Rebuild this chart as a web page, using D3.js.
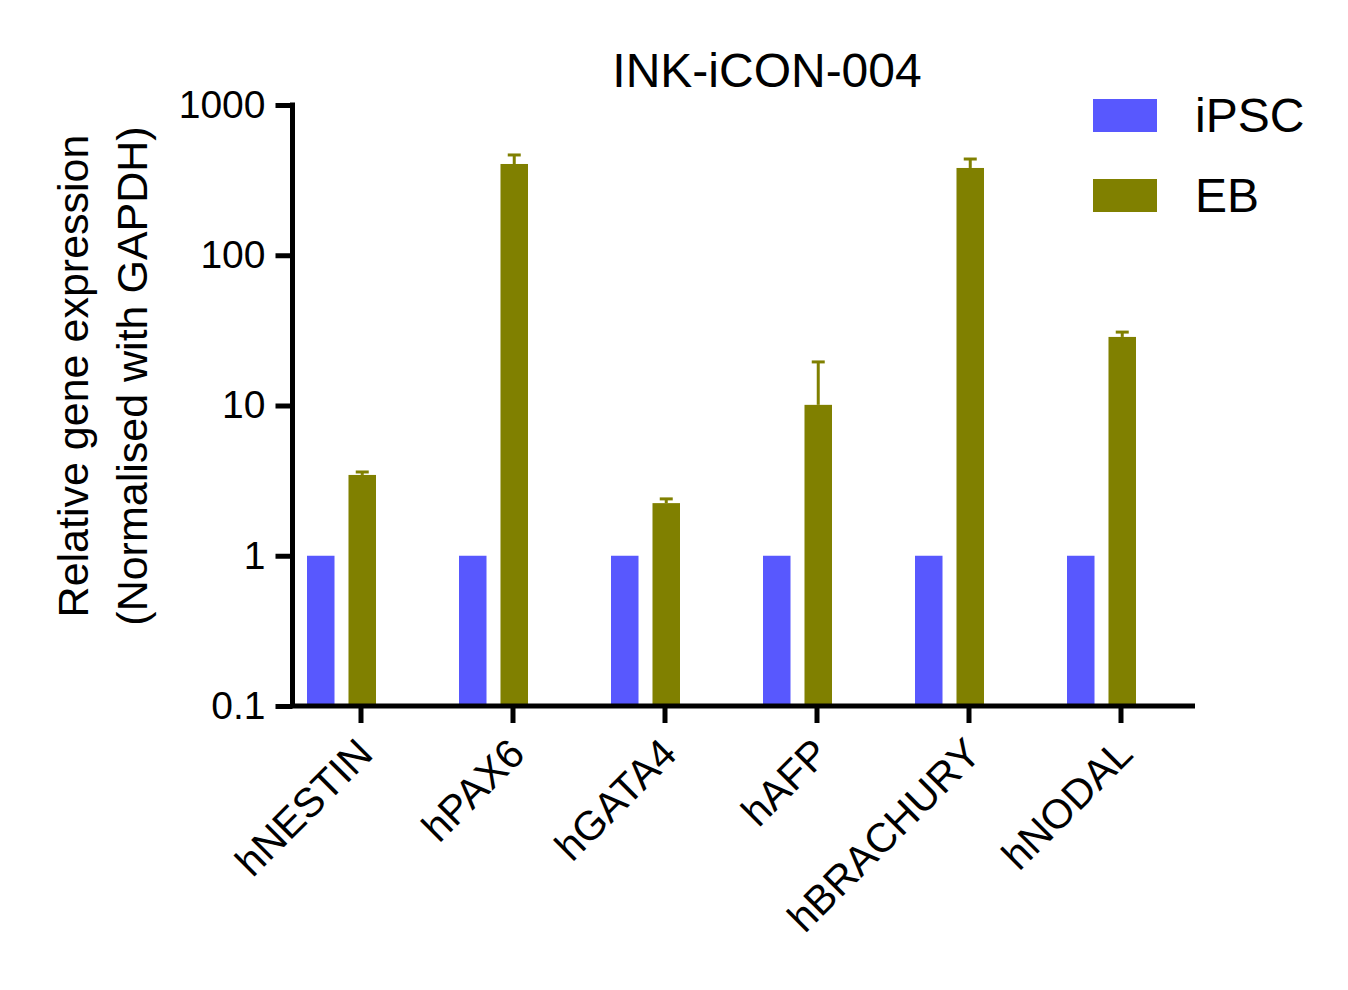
<!DOCTYPE html>
<html>
<head>
<meta charset="utf-8">
<script src="https://cdn.jsdelivr.net/npm/d3@7"></script>
<style>
  html, body { margin: 0; padding: 0; background: #fff; }
  svg { display: block; font-family: "Liberation Sans", Arial, sans-serif; }
</style>
</head>
<body>
<svg id="chart" width="1348" height="990"></svg>
<script>
const categories = ["hNESTIN", "hPAX6", "hGATA4", "hAFP", "hBRACHURY", "hNODAL"];
const seriesNames = ["iPSC", "EB"];
const ipscValues = [1, 1, 1, 1, 1, 1];
const ebValues = [3.45, 405, 2.24, 10.1, 381, 28.6];
const ebErrorUpper = [3.61, 465, 2.39, 19.5, 437, 30.8];
const yTicks = [0.1, 1, 10, 100, 1000];
const yTickLabels = ["0.1", "1", "10", "100", "1000"];
const colors = { iPSC: "#5858fe", EB: "#808000" };

const svg = d3.select("#chart");

const x = d3.scaleBand().domain(categories).range([285, 1197]).padding(0);
const xInner = d3.scaleBand().domain(seriesNames).range([22, 91]).paddingInner(0.337).paddingOuter(0);
const y = d3.scaleLog().domain([0.1, 1000]).range([706, 105]);

const values = { iPSC: ipscValues, EB: ebValues };

// bars
seriesNames.forEach(s => {
  svg.append("g").selectAll("rect")
    .data(categories)
    .join("rect")
    .attr("x", c => x(c) + xInner(s))
    .attr("width", xInner.bandwidth())
    .attr("y", (c, i) => y(values[s][i]))
    .attr("height", (c, i) => y(0.1) - y(values[s][i]))
    .attr("fill", colors[s]);
});

// error bars (upper only) for EB
const errG = svg.append("g").attr("stroke", colors.EB).attr("stroke-width", 3).attr("fill", "none");
categories.forEach((c, i) => {
  const cx = x(c) + xInner("EB") + xInner.bandwidth() / 2;
  errG.append("line").attr("x1", cx).attr("x2", cx).attr("y1", y(ebValues[i])).attr("y2", y(ebErrorUpper[i]));
  errG.append("line").attr("x1", cx - 6.5).attr("x2", cx + 6.5).attr("y1", y(ebErrorUpper[i])).attr("y2", y(ebErrorUpper[i]));
});

// y axis
const yAxis = d3.axisLeft(y).tickValues(yTicks).tickFormat((d, i) => yTickLabels[i]).tickSize(17).tickPadding(10).tickSizeOuter(0);
const yg = svg.append("g").attr("transform", "translate(292.5,0)").call(yAxis);
yg.select(".domain").attr("stroke", "#000").attr("stroke-width", 5);
yg.selectAll(".tick line").attr("stroke", "#000").attr("stroke-width", 5);
yg.selectAll(".tick text").attr("font-size", 39).attr("fill", "#000").attr("font-family", "'Liberation Sans', Arial, sans-serif");
yg.select(".domain").attr("d", `M0,${y(1000) - 2.5}V${y(0.1)}`);

// x axis
const xAxis = d3.axisBottom(x).tickSize(17).tickSizeOuter(0);
const xg = svg.append("g").attr("transform", `translate(0,${y(0.1)})`).call(xAxis);
xg.select(".domain").attr("d", "M290,0H1195").attr("stroke", "#000").attr("stroke-width", 5);
xg.selectAll(".tick line").attr("stroke", "#000").attr("stroke-width", 5);
xg.selectAll(".tick text")
  .attr("font-size", 41)
  .attr("fill", "#000")
  .attr("font-family", "'Liberation Sans', Arial, sans-serif")
  .attr("text-anchor", "end")
  .attr("dy", null)
  .attr("y", 0)
  .attr("transform", "translate(14,50) rotate(-45)");

// title
svg.append("text").attr("x", 767).attr("y", 87).attr("text-anchor", "middle")
  .attr("font-size", 48).attr("fill", "#000").text("INK-iCON-004");

// y label
const yl = svg.append("text").attr("transform", "translate(0,376) rotate(-90)")
  .attr("text-anchor", "middle").attr("font-size", 43).attr("fill", "#000");
yl.append("tspan").attr("x", 0).attr("y", 88).text("Relative gene expression");
yl.append("tspan").attr("x", 0).attr("y", 147).text("(Normalised with GAPDH)");

// legend
const legendY = [99, 179];
seriesNames.forEach((s, i) => {
  svg.append("rect").attr("x", 1093).attr("y", legendY[i]).attr("width", 64).attr("height", 33).attr("fill", colors[s]);
  svg.append("text").attr("x", 1195).attr("y", legendY[i] + 33).attr("font-size", 48).attr("fill", "#000").text(s);
});
</script>
</body>
</html>
